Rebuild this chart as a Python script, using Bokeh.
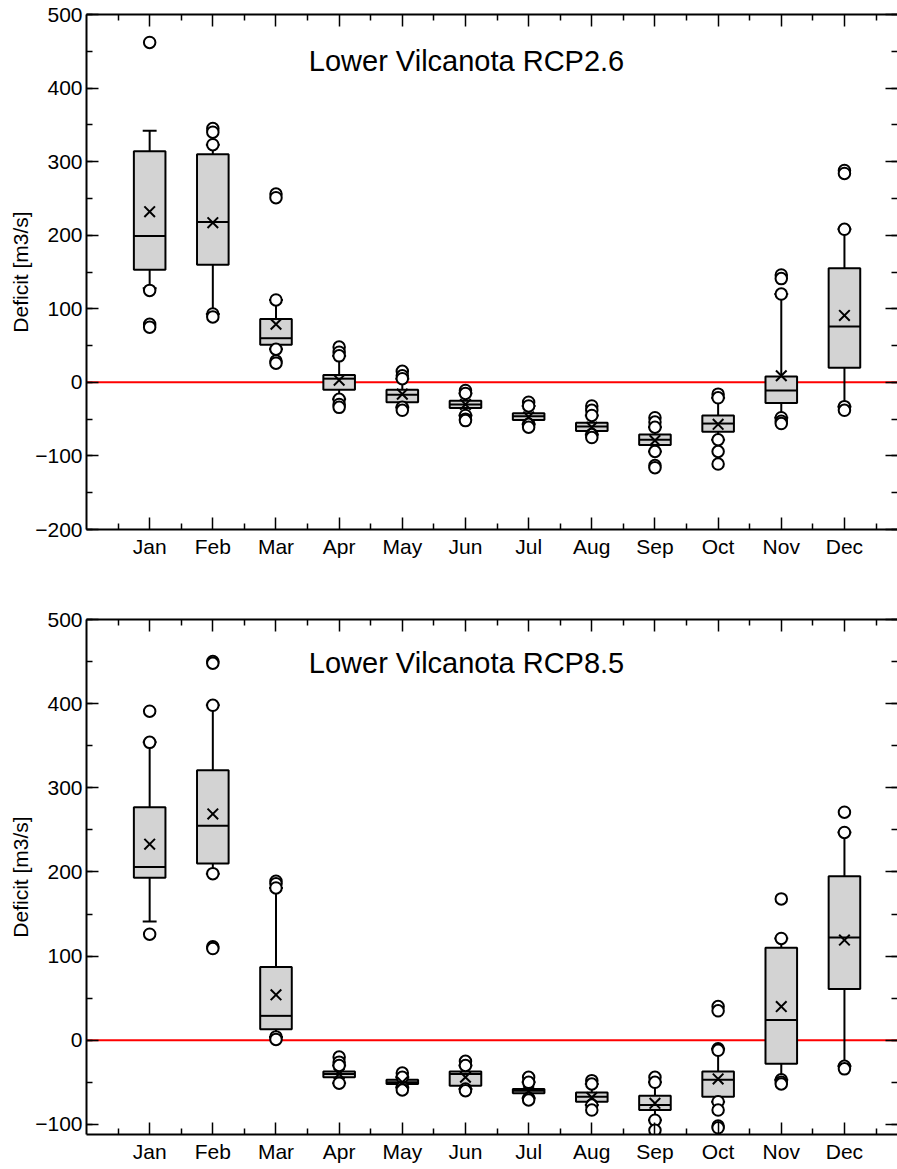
import numpy as np
from bokeh.plotting import figure
from bokeh.layouts import column
from bokeh.models import (ColumnDataSource, FixedTicker, SingleIntervalTicker, LinearAxis,
                          Span, Label, CustomJSTickFormatter, Range1d)
from bokeh.embed import file_html
from bokeh.resources import INLINE

MONTHS = ["Jan", "Feb", "Mar", "Apr", "May", "Jun", "Jul", "Aug", "Sep", "Oct", "Nov", "Dec"]
MONTH_POS = list(range(1, 13))

# ---------------- Lower Vilcanota RCP2.6 ----------------
rcp26_q1 = [153, 160, 51, -10, -27, -35, -51, -66, -85, -67, -28, 20]
rcp26_med = [199, 218, 60, 5, -17, -30, -46, -60, -78, -56, -11, 76]
rcp26_q3 = [314, 310, 86, 10, -10, -25, -42, -55, -71, -45, 8, 155]
rcp26_lo = [128, 93, 45, -23, -34, -45, -57, -71, -94, -78, -48, -33]
rcp26_hi = [342, 323, 112, 36, 5, -15, -32, -45, -61, -21, 120, 208]
rcp26_mean = [232, 217, 79, 3, -16, -30, -47, -61, -79, -57, 9, 91]
rcp26_out = [
    [462, 125, 79, 75],
    [345, 340, 323, 93, 89],
    [256, 251, 112, 45, 29, 26],
    [48, 41, 36, -23, -30, -34],
    [15, 9, 5, -34, -38],
    [-11, -15, -45, -50, -52],
    [-27, -32, -57, -61],
    [-32, -38, -45, -71, -75],
    [-48, -54, -61, -94, -113, -116],
    [-16, -21, -78, -94, -111],
    [146, 141, 120, -48, -53, -56],
    [288, 284, 208, -33, -38],
]

# ---------------- Lower Vilcanota RCP8.5 ----------------
rcp85_q1 = [193, 210, 13, -44, -52, -54, -63, -73, -83, -67, -28, 61]
rcp85_med = [206, 255, 29, -40, -50, -40, -60, -67, -77, -47, 24, 122]
rcp85_q3 = [277, 321, 87, -37, -47, -37, -58, -62, -66, -37, 110, 195]
rcp85_lo = [141, 198, 4, -51, -56, -58, -69, -77, -95, -73, -47, -31]
rcp85_hi = [354, 398, 181, -30, -44, -30, -50, -52, -50, -10, 121, 247]
rcp85_mean = [233, 269, 54, -40, -50, -44, -61, -68, -75, -46, 40, 119]
rcp85_out = [
    [391, 354, 126],
    [450, 448, 398, 198, 111, 109],
    [189, 186, 181, 4, 1],
    [-20, -26, -30, -51],
    [-39, -44, -56, -59],
    [-25, -30, -58, -60],
    [-44, -50, -69, -71],
    [-48, -52, -77, -83],
    [-44, -50, -95, -107],
    [40, 35, -10, -12, -73, -83, -102, -104],
    [168, 121, -47, -50, -52],
    [271, 247, -31, -34],
]

FONT = "Liberation Sans"
BOX_W = 0.5
CAP_W = 0.22


def neg_labels(start, end):
    return {v: "\u2212" + str(-v) for v in range(-500, 0, 100) if start <= v}


def make_fig(title, q1, med, q3, lo, hi, mean, outl, y0, y1, height, b_top, b_bottom, title_y):
    p = figure(width=897, height=height, output_backend="svg", toolbar_location=None,
               x_range=Range1d(0, 12.84), y_range=Range1d(y0, y1),
               min_border_left=86, min_border_right=0, min_border_top=b_top,
               min_border_bottom=b_bottom)
    p.outline_line_color = None
    p.xgrid.visible = False
    p.ygrid.visible = False

    x = np.array(MONTH_POS, dtype=float)
    src = ColumnDataSource(dict(
        x=x, q1=q1, med=med, q3=q3, lo=lo, hi=hi, mean=mean,
        xl=x - BOX_W / 2, xr=x + BOX_W / 2, cl=x - CAP_W / 2, cr=x + CAP_W / 2))

    # zero line
    p.add_layout(Span(location=0, dimension="width", line_color="#ff0000",
                      line_width=2, level="underlay"))

    # whiskers
    p.segment(x0="x", y0="q3", x1="x", y1="hi", source=src, line_color="black", line_width=2)
    p.segment(x0="x", y0="q1", x1="x", y1="lo", source=src, line_color="black", line_width=2)
    p.segment(x0="cl", y0="hi", x1="cr", y1="hi", source=src, line_color="black", line_width=2)
    p.segment(x0="cl", y0="lo", x1="cr", y1="lo", source=src, line_color="black", line_width=2)
    # boxes
    p.vbar(x="x", width=BOX_W, bottom="q1", top="q3", source=src, fill_color="#d3d3d3",
           line_color="black", line_width=2)
    p.segment(x0="xl", y0="med", x1="xr", y1="med", source=src, line_color="black", line_width=2)

    # outliers
    ox, oy = [], []
    for m, vals in zip(MONTH_POS, outl):
        ox.extend([m] * len(vals))
        oy.extend(vals)
    p.scatter(ox, oy, marker="circle", size=11.5, fill_color="white", line_color="black",
              line_width=2)
    # means
    p.scatter(x="x", y="mean", source=src, marker="x", size=15, line_color="black",
              line_width=2)

    # title inside
    p.add_layout(Label(x=3.52, y=title_y, text=title, text_font=FONT, text_font_size="29px",
                       text_color="black", text_baseline="alphabetic"))

    xt = FixedTicker(ticks=MONTH_POS, minor_ticks=list(np.arange(0.5, 13.0, 1.0)))
    yt = SingleIntervalTicker(interval=100, num_minor_ticks=2)

    for ax in [p.xaxis[0], p.yaxis[0]]:
        ax.axis_line_width = 2
        ax.axis_line_color = "black"
        ax.major_tick_in = 12
        ax.major_tick_out = 0
        ax.minor_tick_in = 6
        ax.minor_tick_out = 0
        ax.major_tick_line_color = "black"
        ax.minor_tick_line_color = "black"
        ax.major_tick_line_width = 1.5
        ax.minor_tick_line_width = 1.5
        ax.major_label_text_font = FONT
        ax.major_label_text_font_size = "21px"
        ax.major_label_text_color = "black"

    p.xaxis[0].ticker = xt
    p.xaxis[0].major_label_overrides = {m: n for m, n in zip(MONTH_POS, MONTHS)}
    p.xaxis[0].major_label_standoff = 5
    p.yaxis[0].ticker = yt
    p.yaxis[0].major_label_overrides = neg_labels(y0, y1)
    p.yaxis[0].major_label_standoff = 4
    p.yaxis[0].axis_label = "Deficit [m3/s]"
    p.yaxis[0].axis_label_text_font = FONT
    p.yaxis[0].axis_label_text_font_size = "21px"
    p.yaxis[0].axis_label_text_font_style = "normal"
    p.yaxis[0].axis_label_text_color = "black"
    p.yaxis[0].axis_label_standoff = 0

    for loc, tick in (("above", xt), ("right", yt)):
        ax = LinearAxis(ticker=tick, formatter=CustomJSTickFormatter(code="return ''"),
                        axis_line_width=2, axis_line_color="black",
                        major_tick_in=12, major_tick_out=0, minor_tick_in=6, minor_tick_out=0,
                        major_tick_line_width=1.5, minor_tick_line_width=1.5,
                        major_label_standoff=0, major_label_text_font_size="0px")
        if loc == "right":
            ax.axis_line_color = None
        p.add_layout(ax, loc)
    return p


p1 = make_fig("Lower Vilcanota RCP2.6", rcp26_q1, rcp26_med, rcp26_q3, rcp26_lo, rcp26_hi,
              rcp26_mean, rcp26_out, -200, 500, 574, 14, 45, 437)
p2 = make_fig("Lower Vilcanota RCP8.5", rcp85_q1, rcp85_med, rcp85_q3, rcp85_lo, rcp85_hi,
              rcp85_mean, rcp85_out, -112, 500, 594, 45, 34, 448)

layout = column(p1, p2, spacing=0)
open("out.html", "w").write(file_html(layout, INLINE))
